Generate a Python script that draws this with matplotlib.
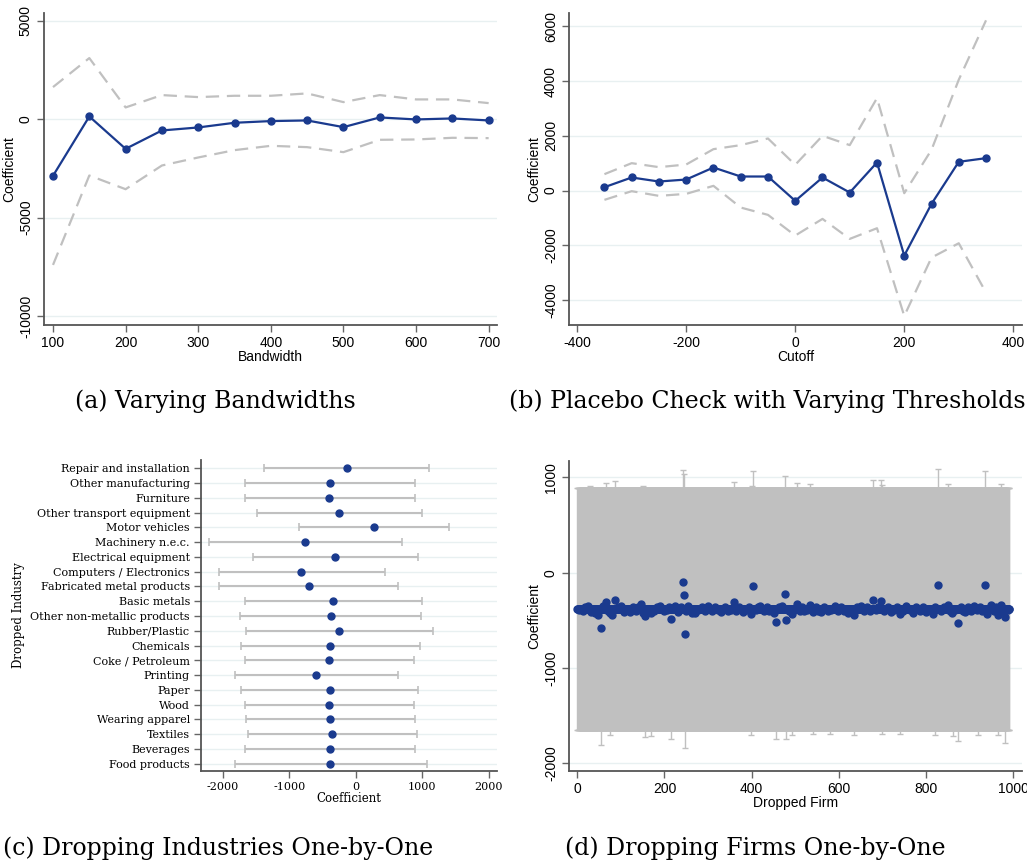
import numpy as np
import matplotlib
matplotlib.use("Agg")
import matplotlib.pyplot as plt

# ---------------- data ----------------
# (a) varying bandwidths
bandwidth = [100, 150, 200, 250, 300, 350, 400, 450, 500, 550, 600, 650, 700]
bw_coef = [-2880, 135, -1510, -576, -424, -186, -100, -68, -407, 85, -17, 34, -68]
bw_upper = [1627, 3100, 593, 1220, 1118, 1186, 1186, 1305, 864, 1220, 1000, 1000, 813]
bw_lower = [-7407, -2864, -3560, -2356, -1949, -1576, -1356, -1424, -1678, -1051, -1034, -949, -966]

# (b) placebo cutoffs
cutoff = [-350, -300, -250, -200, -150, -100, -50, 0, 50, 100, 150, 200, 250, 300, 350]
cut_coef = [122, 476, 329, 402, 841, 512, 512, -378, 476, -73, 1024, -2378, -488, 1049, 1183]
cut_upper = [598, 1000, 854, 951, 1512, 1659, 1902, 939, 2000, 1659, 3378, -98, 1488, 4049, 6220]
cut_lower = [-341, -24, -195, -122, 171, -622, -890, -1646, -1037, -1768, -1378, -4585, -2451, -1927, -3732]

# (c) dropping industries one at a time (top to bottom)
industries = ["Repair and installation", "Other manufacturing", "Furniture",
              "Other transport equipment", "Motor vehicles", "Machinery n.e.c.",
              "Electrical equipment", "Computers / Electronics",
              "Fabricated metal products", "Basic metals",
              "Other non-metallic products", "Rubber/Plastic", "Chemicals",
              "Coke / Petroleum", "Printing", "Paper", "Wood", "Wearing apparel",
              "Textiles", "Beverages", "Food products"]
ind_coef = [-135, -386, -396, -246, 271, -762, -311, -817, -707, -336, -376,
            -256, -381, -396, -591, -391, -396, -386, -351, -386, -381]
ind_lower = [-1373, -1659, -1664, -1489, -847, -2206, -1539, -2060, -2060, -1659,
             -1734, -1649, -1729, -1659, -1815, -1724, -1664, -1654, -1619, -1659, -1815]
ind_upper = [1103, 892, 887, 1003, 1404, 692, 932, 441, 642, 1003, 982, 1163, 962,
             872, 637, 942, 877, 887, 917, 887, 1068]

# (d) dropping firms one at a time
n_firms = 992
firm_coef_default = -378
firm_lower_default = -1650
firm_upper_default = 885
firm_coef_changes = {
    5: -395, 12: -400, 18: -360, 25: -350, 32: -410, 40: -424, 48: -440, 55: -580,
    60: -350, 66: -308, 70: -400, 75: -424, 80: -440, 87: -290, 93: -360, 100: -350,
    108: -415, 114: -395, 120: -410, 128: -360, 135: -400, 140: -355, 146: -325,
    151: -420, 156: -458, 163: -395, 170: -420, 176: -400, 183: -360, 190: -345,
    198: -405, 205: -395, 210: -360, 216: -486, 225: -345, 232: -415, 238: -355,
    243: -101, 244: -234, 246: -640, 250: -400, 255: -345, 262: -420, 270: -420,
    278: -395, 286: -360, 293: -405, 300: -345, 308: -400, 315: -360, 322: -395,
    330: -410, 338: -360, 345: -400, 352: -395, 359: -311, 365: -405, 372: -360,
    380: -410, 388: -395, 394: -360, 399: -437, 403: -136, 410: -395, 415: -360,
    420: -350, 428: -400, 434: -360, 440: -405, 447: -395, 451: -420, 456: -514,
    463: -360, 470: -345, 477: -220, 478: -500, 485: -400, 493: -430, 498: -395,
    503: -332, 510: -400, 515: -360, 520: -405, 527: -395, 533: -340, 540: -410,
    547: -360, 553: -400, 560: -415, 567: -360, 574: -400, 582: -395, 590: -350,
    597: -405, 604: -360, 612: -400, 620: -420, 627: -395, 634: -440, 641: -360,
    650: -345, 657: -400, 664: -360, 671: -405, 679: -283, 684: -395, 690: -360,
    697: -297, 704: -400, 712: -360, 720: -410, 727: -395, 733: -360, 740: -430,
    748: -400, 755: -345, 762: -395, 770: -420, 777: -360, 785: -405, 792: -360,
    800: -410, 807: -395, 815: -430, 821: -360, 827: -133, 834: -400, 842: -360,
    850: -340, 856: -400, 860: -420, 866: -395, 873: -528, 880: -360, 885: -405,
    890: -410, 897: -360, 903: -400, 910: -350, 917: -395, 923: -360, 928: -405,
    934: -133, 940: -430, 944: -395, 948: -343, 955: -400, 960: -360, 964: -444,
    968: -395, 972: -340, 977: -405, 982: -465, 987: -395,
}
firm_upper_changes = {
    66: 940, 87: 958, 243: 1073, 244: 1030, 359: 948, 403: 1063, 477: 1014,
    503: 937, 533: 925, 679: 969, 697: 969, 827: 1091, 850: 930, 934: 1063,
    972: 935, 30: 905, 150: 910, 400: 905, 700: 920,
}
firm_lower_changes = {
    55: -1804, 75: -1700, 156: -1720, 170: -1710, 216: -1741, 246: -1839,
    399: -1699, 456: -1748, 478: -1748, 493: -1705, 540: -1690, 580: -1690,
    634: -1700, 700: -1690, 740: -1690, 820: -1700, 862: -1710, 873: -1766,
    920: -1700, 964: -1699, 982: -1783,
}

# ---------------- style ----------------
NAVY = "#1a3a8e"
CI_GRAY = "#c0c0c0"
GRID = "#e8f0f1"
SPINE = "#555555"
sans = ["Liberation Sans", "DejaVu Sans"]
serif = ["DejaVu Serif"]

plt.rcParams["font.family"] = sans
plt.rcParams["axes.unicode_minus"] = False

fig = plt.figure(figsize=(10.27, 8.63), dpi=100)
W, H = 1027, 863


def add_axes(left, top, right, bottom):
    return fig.add_axes([left / W, 1 - bottom / H, (right - left) / W, (bottom - top) / H])


def stata_axes(ax, font=sans, size=10, rotate_y=True):
    for s in ("top", "right"):
        ax.spines[s].set_visible(False)
    for s in ("left", "bottom"):
        ax.spines[s].set_color(SPINE)
        ax.spines[s].set_linewidth(1.3)
    ax.tick_params(axis="both", direction="out", length=5, width=1.0,
                   color="#666666", labelsize=size, pad=3)
    for lab in ax.get_xticklabels() + ax.get_yticklabels():
        lab.set_family(font)
    if rotate_y:
        for lab in ax.get_yticklabels():
            lab.set_rotation(90)
            lab.set_va("center")
    ax.grid(axis="y", color=GRID, linewidth=1.0)
    ax.set_axisbelow(True)


# (a)
ax = add_axes(44, 13, 497, 325)
ax.plot(bandwidth, bw_upper, color=CI_GRAY, lw=1.6, dashes=(6, 3.5))
ax.plot(bandwidth, bw_lower, color=CI_GRAY, lw=1.6, dashes=(6, 3.5))
ax.plot(bandwidth, bw_coef, color=NAVY, lw=1.6, marker="o", ms=5)
ax.set_xlim(87.6, 711.5)
ax.set_ylim(-10458, 5390)
ax.set_xticks([100, 200, 300, 400, 500, 600, 700])
ax.set_yticks([5000, 0, -5000, -10000])
stata_axes(ax)
ax.set_xlabel("Bandwidth", fontsize=10, labelpad=0)
ax.set_ylabel("Coefficient", fontsize=10, labelpad=2)

# (b)
ax = add_axes(569, 13, 1022, 325)
ax.plot(cutoff, cut_upper, color=CI_GRAY, lw=1.6, dashes=(6, 3.5))
ax.plot(cutoff, cut_lower, color=CI_GRAY, lw=1.6, dashes=(6, 3.5))
ax.plot(cutoff, cut_coef, color=NAVY, lw=1.6, marker="o", ms=5)
ax.set_xlim(-415, 416)
ax.set_ylim(-4915, 6488)
ax.set_xticks([-400, -200, 0, 200, 400])
ax.set_yticks([6000, 4000, 2000, 0, -2000, -4000])
stata_axes(ax)
ax.set_xlabel("Cutoff", fontsize=10, labelpad=0)
ax.set_ylabel("Coefficient", fontsize=10, labelpad=2)

# (c)
ax = add_axes(201, 460, 497, 771)
ypos = np.arange(len(industries))[::-1]
c = np.array(ind_coef)
err = np.vstack([c - np.array(ind_lower), np.array(ind_upper) - c])
ax.errorbar(ind_coef, ypos, xerr=err, fmt="none", ecolor=CI_GRAY, elinewidth=1.5,
            capsize=3, capthick=1.2)
ax.plot(ind_coef, ypos, "o", color=NAVY, ms=5, zorder=3)
ax.set_xlim(-2326, 2125)
ax.set_ylim(-0.5, len(industries) - 1 + 0.57)
ax.set_xticks([-2000, -1000, 0, 1000, 2000])
ax.set_yticks(ypos)
ax.set_yticklabels(industries)
stata_axes(ax, font=serif, size=8, rotate_y=False)
ax.set_xlabel("Coefficient", fontsize=8.5, family=serif, labelpad=0)
ax.set_ylabel("Dropped Industry", fontsize=8.5, family=serif, labelpad=4)

# (d)
ax = add_axes(569, 461, 1022, 771)
firm = np.arange(n_firms)
f_coef = np.full(n_firms, float(firm_coef_default))
f_lo = np.full(n_firms, float(firm_lower_default))
f_hi = np.full(n_firms, float(firm_upper_default))
for k, v in firm_coef_changes.items():
    f_coef[k] = v
for k, v in firm_upper_changes.items():
    f_hi[k] = v
for k, v in firm_lower_changes.items():
    f_lo[k] = v
ax.errorbar(firm, f_coef, yerr=np.vstack([f_coef - f_lo, f_hi - f_coef]), fmt="none",
            ecolor=CI_GRAY, elinewidth=1.0, capsize=2.5, capthick=1.0)
ax.plot(firm, f_coef, "o", color=NAVY, ms=5, zorder=3)
ax.set_xlim(-19, 1020)
ax.set_ylim(-2080, 1171)
ax.set_xticks([0, 200, 400, 600, 800, 1000])
ax.set_yticks([1000, 0, -1000, -2000])
stata_axes(ax)
ax.set_xlabel("Dropped Firm", fontsize=10, labelpad=0)
ax.set_ylabel("Coefficient", fontsize=10, labelpad=2)

# captions
cap_kw = dict(family=serif, fontsize=17, ha="center", va="center")
fig.text(215 / W, 1 - 401 / H, "(a) Varying Bandwidths", **cap_kw)
fig.text(767 / W, 1 - 401 / H, "(b) Placebo Check with Varying Thresholds", **cap_kw)
fig.text(218 / W, 1 - 848 / H, "(c) Dropping Industries One-by-One", **cap_kw)
fig.text(755 / W, 1 - 848 / H, "(d) Dropping Firms One-by-One", **cap_kw)

fig.savefig("out.png", dpi=100)
